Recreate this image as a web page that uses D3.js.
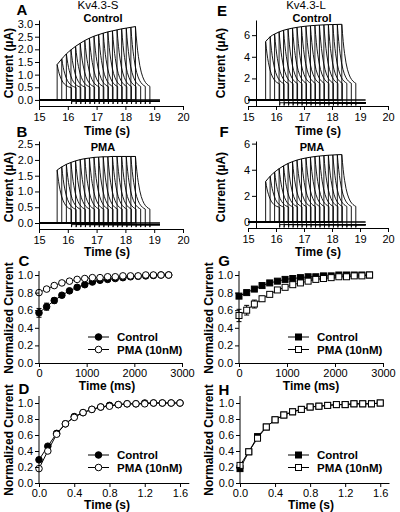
<!DOCTYPE html>
<html><head><meta charset="utf-8">
<script src="https://cdn.jsdelivr.net/npm/d3@7"></script>
<style>body{margin:0;background:#fff}svg{display:block;font-family:"Liberation Sans",Arial,sans-serif}</style>
</head><body><svg id="c" width="400" height="512"></svg>
<script>
// ---------- DATA ----------
const sweepStarts = [15.63,15.79,15.95,16.11,16.27,16.43,16.59,16.75,16.91,17.07,17.23,17.39,17.55,17.71,17.87,18.03,18.19,18.35];
const pulseDuration = 0.5;
const traceStart = 15;
const traceEnd = 19.2;
const decayOffsets = [0,0.025,0.05,0.075,0.1,0.15,0.2,0.25,0.3,0.35,0.4,0.45,0.5];
const decayFraction = [1,0.85,0.72,0.61,0.52,0.37,0.265,0.19,0.135,0.097,0.069,0.05,0.035];

const peaksSControl = [1.40,1.62,1.82,1.98,2.12,2.24,2.35,2.44,2.52,2.58,2.64,2.69,2.73,2.77,2.81,2.84,2.87,2.90];
const peaksSPMA     = [1.68,1.78,1.86,1.92,1.97,2.01,2.04,2.06,2.08,2.09,2.10,2.10,2.11,2.11,2.11,2.11,2.11,2.11];
const peaksLControl = [5.40,5.85,6.10,6.30,6.45,6.56,6.65,6.72,6.78,6.83,6.87,6.90,6.93,6.95,6.97,6.98,6.99,7.00];
const peaksLPMA     = [3.10,3.50,3.82,4.08,4.30,4.48,4.62,4.74,4.83,4.90,4.96,5.01,5.05,5.08,5.11,5.13,5.15,5.16];
const plateauValues = {A:0.45, B:0.38, E:1.35, F:1.05};
const afterValues   = {A:-0.06, B:-0.05, E:-0.25, F:-0.2};
const dipValues     = {A:-0.16, B:-0.13, E:-0.5, F:-0.42};

const timeTicksS = [15,16,17,18,19,20];
const currentTicksS_A = [0,0.5,1.0,1.5,2.0,2.5,3.0];
const currentTicksS_B = [0,0.5,1.0,1.5,2.0,2.5];
const currentTicksL = [0,2,4,6];

const recTimesMs = [0,160,320,480,640,800,960,1120,1280,1440,1600,1760,1920,2080,2240,2400,2560,2720];
const recSControl = [0.57,0.64,0.71,0.77,0.82,0.86,0.89,0.92,0.94,0.95,0.96,0.97,0.98,0.985,0.99,0.995,1.0,1.0];
const recSControlErr = [0.05,0.04,0.03,0.02,0.015,0.012,0.01,0.01,0.008,0.006,0.005,0.005,0.004,0.003,0.003,0.002,0.002,0.0];
const recSPMA = [0.80,0.84,0.88,0.91,0.93,0.95,0.96,0.97,0.97,0.98,0.98,0.99,0.99,0.99,1.0,1.0,1.0,1.0];
const recSPMAErr = [0.02,0.015,0.01,0.01,0.008,0.006,0.005,0.004,0.004,0.003,0.003,0.002,0.002,0.002,0.001,0.001,0.0,0.0];
const recLControl = [0.76,0.80,0.84,0.88,0.91,0.93,0.95,0.96,0.97,0.98,0.98,0.99,0.99,1.0,1.0,1.0,1.0,1.0];
const recLControlErr = [0.02,0.015,0.012,0.01,0.008,0.006,0.005,0.004,0.003,0.003,0.002,0.002,0.002,0.001,0.001,0.0,0.0,0.0];
const recLPMA = [0.54,0.60,0.67,0.73,0.78,0.83,0.86,0.89,0.91,0.93,0.95,0.96,0.97,0.98,0.98,0.99,0.99,1.0];
const recLPMAErr = [0.07,0.055,0.045,0.03,0.02,0.015,0.012,0.01,0.008,0.006,0.005,0.004,0.004,0.003,0.002,0.002,0.001,0.0];

const inactTimesS = [0,0.1,0.2,0.3,0.4,0.5,0.6,0.7,0.8,0.9,1.0,1.1,1.2,1.3,1.4,1.5,1.6];
const inactSControl = [0.29,0.46,0.62,0.74,0.83,0.88,0.92,0.95,0.97,0.98,0.99,0.99,1.0,1.0,1.0,1.0,1.0];
const inactSPMA     = [0.18,0.40,0.61,0.74,0.82,0.88,0.92,0.95,0.96,0.98,0.99,0.99,0.99,1.0,1.0,1.0,1.0];
const inactLControl = [0.18,0.39,0.58,0.70,0.79,0.85,0.89,0.92,0.95,0.96,0.97,0.98,0.98,0.99,0.99,0.99,1.0];
const inactLPMA     = [0.22,0.39,0.56,0.70,0.79,0.85,0.89,0.92,0.95,0.96,0.97,0.98,0.98,0.99,0.99,0.99,1.0];

const recTicksMs = [0,1000,2000,3000];
const inactTicksS = [0,0.4,0.8,1.2,1.6];
const normTicks = [0,0.2,0.4,0.6,0.8,1.0];
const legendLabels = ["Control","PMA (10nM)"];

// ---------- DRAW ----------
const svg = d3.select("#c");
const FONT = '"Liberation Sans",Arial,sans-serif';

function styleAxis(g){
  g.selectAll(".domain").attr("stroke","#000").attr("stroke-width",1);
  g.selectAll(".tick line").attr("stroke","#000");
  g.selectAll(".tick text").attr("fill","#000").attr("font-size","11px").attr("font-family",FONT);
}

function text(x,y,str,opt){
  const t = svg.append("text").attr("x",x).attr("y",y).text(str)
    .attr("font-family",FONT).attr("fill","#000")
    .attr("font-size",(opt.size||12)+"px")
    .attr("font-weight",opt.bold?"bold":"normal")
    .attr("text-anchor",opt.anchor||"middle");
  if(opt.rotate) t.attr("transform",`rotate(-90,${x},${y})`);
  return t;
}

function tracePanel(cfg){
  const x = d3.scaleLinear().domain([15,20]).range(cfg.xr);
  const y = d3.scaleLinear().domain(cfg.yd).range(cfg.yr);
  const g = svg.append("g");
  const line = d3.line().x(d=>x(d[0])).y(d=>y(d[1]));
  const plat = plateauValues[cfg.key], after = afterValues[cfg.key], dip = dipValues[cfg.key];
  cfg.peaks.forEach((pk,i)=>{
    const t0 = sweepStarts[i];
    const pts = [[traceStart,0],[t0,0]];
    decayOffsets.forEach((o,k)=>pts.push([t0+o, plat+(pk-plat)*decayFraction[k]]));
    const tEnd = t0+pulseDuration;
    pts.push([tEnd,dip],[tEnd+0.01,after],[traceEnd,after]);
    g.append("path").attr("d",line(pts)).attr("fill","none").attr("stroke","#000").attr("stroke-width",0.9);
  });
  // peak envelope
  const env = d3.line().x(d=>x(d[0])).y(d=>y(d[1])).curve(d3.curveMonotoneX);
  g.append("path").attr("d",env(cfg.peaks.map((p,i)=>[sweepStarts[i],p])))
    .attr("fill","none").attr("stroke","#000").attr("stroke-width",1);
  g.append("path").attr("d",line([[traceStart,0],[traceEnd,0]])).attr("stroke","#000").attr("stroke-width",1.6);
  const xa = svg.append("g").attr("transform",`translate(0,${cfg.yr[0]})`)
    .call(d3.axisBottom(x).tickValues(timeTicksS).tickSize(4).tickSizeOuter(0).tickPadding(3).tickFormat(d3.format("d")));
  styleAxis(xa);
  const ya = svg.append("g").attr("transform",`translate(${cfg.yAxisX},0)`)
    .call(d3.axisLeft(y).tickValues(cfg.yticks).tickSize(4).tickSizeOuter(0).tickPadding(2).tickFormat(d3.format(cfg.yfmt)));
  styleAxis(ya);
}

tracePanel({key:"A",peaks:peaksSControl,xr:[39,183],yd:[-0.24,3.16],yr:[106,20],yAxisX:39,yticks:currentTicksS_A,yfmt:".1f"});
tracePanel({key:"B",peaks:peaksSPMA,xr:[39,183],yd:[-0.19,2.6],yr:[229,141],yAxisX:39,yticks:currentTicksS_B,yfmt:".1f"});
tracePanel({key:"E",peaks:peaksLControl,xr:[248,388],yd:[-0.55,7.4],yr:[106,20],yAxisX:256,yticks:currentTicksL,yfmt:"d"});
tracePanel({key:"F",peaks:peaksLPMA,xr:[248,388],yd:[-0.46,6.2],yr:[228,141],yAxisX:256,yticks:currentTicksL,yfmt:"d"});

function marker(g,cx,cy,shape,filled){
  if(shape==="circle"){
    g.append("circle").attr("cx",cx).attr("cy",cy).attr("r",3.3)
      .attr("fill",filled?"#000":"#fff").attr("stroke","#000").attr("stroke-width",1);
  } else {
    g.append("rect").attr("x",cx-3).attr("y",cy-3).attr("width",6).attr("height",6)
      .attr("fill",filled?"#000":"#fff").attr("stroke","#000").attr("stroke-width",1);
  }
}

function normPanel(cfg){
  const x = d3.scaleLinear().domain(cfg.xd).range(cfg.xr);
  const y = d3.scaleLinear().domain([0,1]).range(cfg.yr);
  const top = cfg.top;
  const g = svg.append("g");
  const line = d3.line().x(d=>x(d[0])).y(d=>y(d[1]));
  cfg.series.forEach(s=>{
    const pts = cfg.xs.map((t,i)=>[t,s.v[i]]);
    g.append("path").attr("d",line(pts)).attr("fill","none").attr("stroke","#000").attr("stroke-width",1);
    if(s.err){
      s.err.forEach((e,i)=>{
        if(e<=0.006) return;
        const cx=x(cfg.xs[i]);
        g.append("line").attr("x1",cx).attr("x2",cx).attr("y1",y(s.v[i]-e)).attr("y2",y(s.v[i]+e)).attr("stroke","#000");
        [s.v[i]-e,s.v[i]+e].forEach(v=>g.append("line").attr("x1",cx-2.5).attr("x2",cx+2.5).attr("y1",y(v)).attr("y2",y(v)).attr("stroke","#000"));
      });
    }
    pts.forEach(p=>marker(g,x(p[0]),y(p[1]),cfg.shape,s.filled));
  });
  const xa = svg.append("g").attr("transform",`translate(0,${cfg.yr[0]})`)
    .call(d3.axisBottom(x).tickValues(cfg.xticks).tickSize(4).tickSizeOuter(0).tickPadding(2).tickFormat(d3.format(cfg.xfmt)));
  styleAxis(xa);
  const ya = svg.append("g").attr("transform",`translate(${cfg.xr[0]},0)`)
    .call(d3.axisLeft(y).tickValues(normTicks).tickSize(4).tickSizeOuter(0).tickPadding(2).tickFormat(d3.format(".1f")));
  styleAxis(ya);
  ya.select(".domain").remove();
  svg.append("line").attr("x1",cfg.xr[0]).attr("x2",cfg.xr[0]).attr("y1",cfg.yr[0]).attr("y2",top).attr("stroke","#000");
  // legend
  const lg = svg.append("g");
  cfg.series.forEach((s,i)=>{
    const ly = cfg.leg[1]+i*12.5;
    lg.append("line").attr("x1",cfg.leg[0]).attr("x2",cfg.leg[0]+21).attr("y1",ly).attr("y2",ly).attr("stroke","#000");
    marker(lg,cfg.leg[0]+10.5,ly,cfg.shape,s.filled);
    lg.append("text").attr("x",cfg.leg[0]+29).attr("y",ly+4).text(legendLabels[i])
      .attr("font-family",FONT).attr("font-size","11.5px").attr("font-weight","bold");
  });
}

normPanel({xd:[0,3000],xr:[39,182],yr:[363,275],top:271,xs:recTimesMs,xticks:recTicksMs,xfmt:"d",shape:"circle",leg:[88,337],
  series:[{v:recSControl,err:recSControlErr,filled:true},{v:recSPMA,err:recSPMAErr,filled:false}]});
normPanel({xd:[0,3000],xr:[239,383],yr:[363,275],top:271,xs:recTimesMs,xticks:recTicksMs,xfmt:"d",shape:"square",leg:[288,337],
  series:[{v:recLControl,err:recLControlErr,filled:true},{v:recLPMA,err:recLPMAErr,filled:false}]});
normPanel({xd:[0,1.7],xr:[39,188.8],yr:[483,403],top:396,xs:inactTimesS,xticks:inactTicksS,xfmt:".1f",shape:"circle",leg:[88,455],
  series:[{v:inactSControl,filled:true},{v:inactSPMA,filled:false}]});
normPanel({xd:[0,1.7],xr:[240,389],yr:[483,403],top:396,xs:inactTimesS,xticks:inactTicksS,xfmt:".1f",shape:"square",leg:[288,455],
  series:[{v:inactLControl,filled:true},{v:inactLPMA,filled:false}]});

// ---------- TEXT ----------
text(22,15,"A",{size:15,bold:true});
text(222,16,"E",{size:15,bold:true});
text(22,137,"B",{size:15,bold:true});
text(224,137,"F",{size:15,bold:true});
text(24,266,"C",{size:15,bold:true});
text(224,266,"G",{size:15,bold:true});
text(24,394,"D",{size:15,bold:true});
text(224,395,"H",{size:15,bold:true});

text(98,9,"Kv4.3-S",{size:11.5});
text(306,9,"Kv4.3-L",{size:11.5});
text(103,22,"Control",{size:11,bold:true});
text(312,22,"Control",{size:11,bold:true});
text(103,151,"PMA",{size:11,bold:true});
text(312,151,"PMA",{size:11,bold:true});

text(107,135,"Time (s)",{size:12,bold:true});
text(318,135,"Time (s)",{size:12,bold:true});
text(107,256,"Time (s)",{size:12,bold:true});
text(318,256,"Time (s)",{size:12,bold:true});
text(107,390,"Time (ms)",{size:12,bold:true});
text(311,390,"Time (ms)",{size:12,bold:true});
text(107,509,"Time (s)",{size:12,bold:true});
text(311,509,"Time (s)",{size:12,bold:true});

text(13,63,"Current (µA)",{size:12,bold:true,rotate:true});
text(13,187,"Current (µA)",{size:12,bold:true,rotate:true});
text(225,63,"Current (µA)",{size:12,bold:true,rotate:true});
text(225,187,"Current (µA)",{size:12,bold:true,rotate:true});
text(13,318,"Normalized Current",{size:12,bold:true,rotate:true});
text(213,318,"Normalized Current",{size:12,bold:true,rotate:true});
text(13,440,"Normalized Current",{size:12,bold:true,rotate:true});
text(213,440,"Normalized Current",{size:12,bold:true,rotate:true});
</script></body></html>
